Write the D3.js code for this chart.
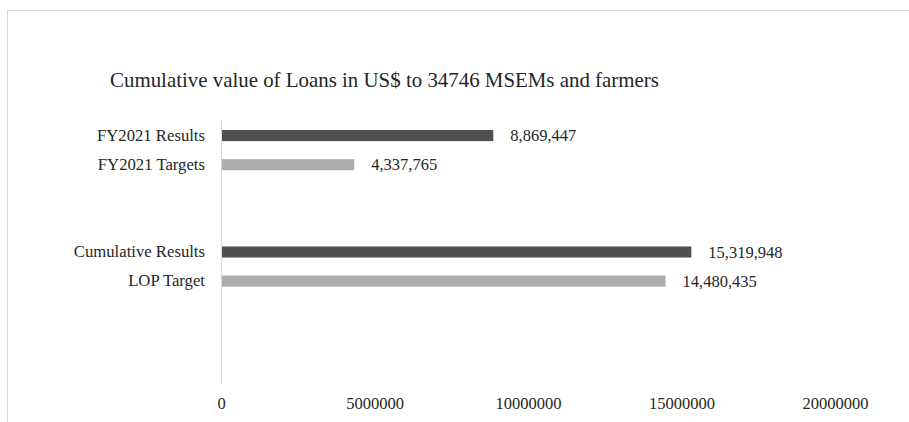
<!DOCTYPE html>
<html>
<head>
<meta charset="utf-8">
<script src="https://cdn.jsdelivr.net/npm/d3@7"></script>
<style>
  html, body { margin: 0; padding: 0; background: #fff; }
  svg { display: block; }
  text { font-family: "Liberation Serif", "Times New Roman", serif; fill: #262626; }
</style>
</head>
<body>
<svg id="chart" width="909" height="422"></svg>
<script>
// Rows of the bar chart, top to bottom; blank rows keep the spacing of the layout
const categories = ["FY2021 Results", "FY2021 Targets", "", "", "Cumulative Results", "LOP Target", "", "", ""];
const values = [8869447, 4337765, null, null, 15319948, 14480435, null, null, null];
const seriesKind = ["result", "target", null, null, "result", "target", null, null, null];
const xTicks = [0, 5000000, 10000000, 15000000, 20000000];
const title = "Cumulative value of Loans in US$ to 34746 MSEMs and farmers";

const colors = { result: "#505050", target: "#adadad" };

const svg = d3.select("#chart");

// Outer chart frame
svg.append("rect")
  .attr("x", 7.5).attr("y", 10.5)
  .attr("width", 1000).attr("height", 1000)
  .attr("fill", "none")
  .attr("stroke", "#d9d9d9")
  .attr("stroke-width", 1);

svg.append("text")
  .attr("x", 110)
  .attr("y", 87)
  .style("font-size", "20.9px")
  .text(title);

const x = d3.scaleLinear().domain([0, 20000000]).range([221, 835]);
const y = d3.scaleBand()
  .domain(d3.range(categories.length))
  .range([121, 383])
  .paddingInner(0.62)
  .paddingOuter(0.31);

// Category axis: labels only, with a thin vertical baseline at zero
const yAxis = d3.axisLeft(y)
  .tickSize(0)
  .tickPadding(16)
  .tickFormat(i => categories[i]);

const gy = svg.append("g")
  .attr("transform", `translate(${x(0)},0)`)
  .call(yAxis);
gy.select(".domain").remove();
gy.selectAll("text")
  .style("font-size", "16.7px")
  .attr("fill", "#262626");

svg.append("line")
  .attr("x1", x(0) + 0.5).attr("x2", x(0) + 0.5)
  .attr("y1", 121).attr("y2", 383)
  .attr("stroke", "#d9d9d9")
  .attr("stroke-width", 1);

// Value axis along the bottom
const xAxis = d3.axisBottom(x)
  .tickValues(xTicks)
  .tickSize(0)
  .tickPadding(0)
  .tickFormat(d3.format("d"));

const gx = svg.append("g")
  .attr("transform", "translate(0,397)")
  .call(xAxis);
gx.select(".domain").remove();
gx.selectAll("text")
  .style("font-size", "16.5px")
  .attr("fill", "#262626");

const rows = d3.range(categories.length).filter(i => values[i] != null);

svg.append("g").selectAll("rect")
  .data(rows)
  .join("rect")
  .attr("x", x(0) + 1)
  .attr("y", i => y(i))
  .attr("width", i => x(values[i]) - x(0) - 1)
  .attr("height", y.bandwidth())
  .attr("fill", i => colors[seriesKind[i]]);

// Data labels at the end of each bar
svg.append("g").selectAll("text")
  .data(rows)
  .join("text")
  .attr("x", i => x(values[i]) + 17)
  .attr("y", i => y(i) + y.bandwidth() / 2)
  .attr("dy", "0.35em")
  .style("font-size", "16.5px")
  .text(i => d3.format(",")(values[i]));
</script>
</body>
</html>
